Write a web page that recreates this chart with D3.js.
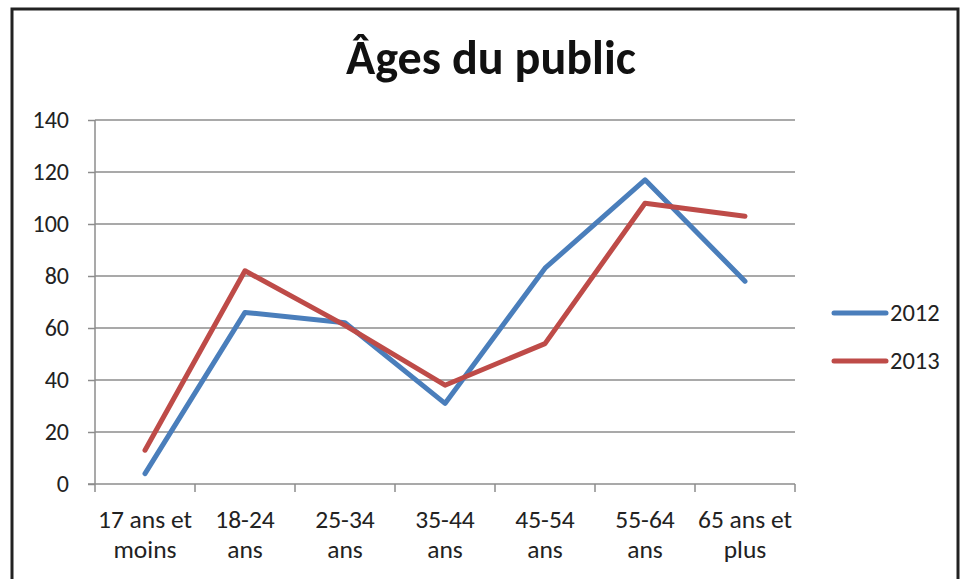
<!DOCTYPE html>
<html><head><meta charset="utf-8">
<script src="https://cdn.jsdelivr.net/npm/d3@7"></script>
<style>body{margin:0;background:#fff}svg{display:block}</style>
</head><body>
<svg id="c" width="966" height="579"></svg>
<script>
const categories = [["17 ans et","moins"],["18-24","ans"],["25-34","ans"],["35-44","ans"],["45-54","ans"],["55-64","ans"],["65 ans et","plus"]];
const series2012 = [4, 66, 62, 31, 83, 117, 78];
const series2013 = [13, 82, 61, 38, 54, 108, 103];
const yTicks = [0, 20, 40, 60, 80, 100, 120, 140];
const seriesNames = ["2012", "2013"];
const colors = ["#4a7ebb", "#be4b48"];

const svg = d3.select("#c");
const font = "Carlito, Lato, 'Open Sans', sans-serif";

// border
svg.append("rect").attr("x", 12).attr("y", 9).attr("width", 946).attr("height", 600)
  .attr("fill", "#fff").attr("stroke", "#222").attr("stroke-width", 3);

// title
const title = svg.append("text").attr("x", 491).attr("y", 74).attr("text-anchor", "middle")
  .attr("font-family", font).attr("font-weight", "bold").attr("font-size", 38).attr("fill", "#111")
  .text("Âges du public");
const tw = title.node().getComputedTextLength();
if (tw > 0) title.attr("font-size", 38 * 290 / tw);

const x = d3.scaleBand().domain(d3.range(categories.length)).range([95, 795]);
const y = d3.scaleLinear().domain([0, 140]).range([484, 120]);

// gridlines
svg.append("g").selectAll("line").data(yTicks.filter(d => d > 0)).join("line")
  .attr("x1", 95).attr("x2", 795).attr("y1", d => y(d)).attr("y2", d => y(d))
  .attr("stroke", "#8c8c8c").attr("stroke-width", 1.5);

// y axis
const yAxis = svg.append("g").attr("transform", "translate(95,0)")
  .call(d3.axisLeft(y).tickValues(yTicks).tickSize(7).tickPadding(19));
yAxis.select(".domain").attr("stroke", "#8c8c8c").attr("stroke-width", 1.5).attr("d", `M0,${y(140)}V${y(0)}`);
yAxis.selectAll(".tick line").attr("stroke", "#8c8c8c").attr("stroke-width", 1.5);
yAxis.selectAll(".tick text").attr("font-family", font).attr("font-size", 24).attr("fill", "#222");

// x axis
const xAxis = svg.append("g").attr("transform", `translate(0,${y(0)})`);
xAxis.append("line").attr("x1", 88).attr("x2", 795).attr("stroke", "#8c8c8c").attr("stroke-width", 1.5);
const bounds = d3.range(categories.length + 1).map(i => i < categories.length ? x(i) : x(i - 1) + x.bandwidth());
xAxis.selectAll("line.tk").data(bounds).join("line").attr("class", "tk")
  .attr("x1", d => d).attr("x2", d => d).attr("y1", 0).attr("y2", 8)
  .attr("stroke", "#8c8c8c").attr("stroke-width", 1.5);
const lbl = xAxis.selectAll("text").data(categories).join("text")
  .attr("text-anchor", "middle").attr("font-family", font).attr("font-size", 25.5).attr("fill", "#222")
  .attr("transform", (d, i) => `translate(${x(i) + x.bandwidth() / 2},0)`);
lbl.selectAll("tspan").data(d => d).join("tspan").attr("x", 0).attr("y", (d, j) => 44 + j * 30).text(d => d);

// lines
const line = d3.line().x((d, i) => x(i) + x.bandwidth() / 2).y(d => y(d));
[series2012, series2013].forEach((s, k) => {
  svg.append("path").datum(s).attr("d", line).attr("fill", "none")
    .attr("stroke", colors[k]).attr("stroke-width", 5).attr("stroke-linecap", "round").attr("stroke-linejoin", "round");
});

// legend
seriesNames.forEach((n, k) => {
  const ly = 313 + k * 48;
  svg.append("line").attr("x1", 834).attr("x2", 886).attr("y1", ly).attr("y2", ly)
    .attr("stroke", colors[k]).attr("stroke-width", 5).attr("stroke-linecap", "round");
  svg.append("text").attr("x", 890).attr("y", ly + 8).attr("font-family", font).attr("font-size", 24.5)
    .attr("fill", "#222").text(n);
});
</script>
</body></html>
